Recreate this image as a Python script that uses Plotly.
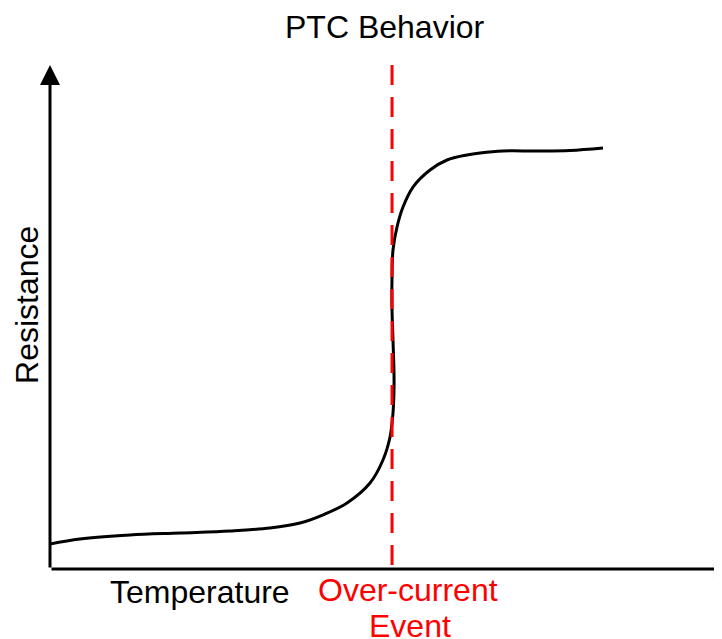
import plotly.graph_objects as go

# Curve data (arbitrary units: temperature 0-100, resistance 0-100)
temperature = [0, 4.46, 11.90, 19.35, 26.79, 32.74, 37.20, 40.92, 44.20, 47.62, 49.55, 50.60,
               51.04, 51.19, 51.19, 51.04, 50.89, 50.89, 51.04, 51.64, 52.53, 54.02, 56.55,
               59.08, 62.05, 63.99, 67.41, 72.47, 77.38, 82.29]
resistance = [4.96, 5.95, 6.75, 7.14, 7.54, 8.13, 9.13, 10.91, 13.10, 17.06, 21.63, 26.19,
              30.95, 35.52, 38.89, 45.44, 51.98, 57.34, 63.29, 67.86, 71.83, 75.79, 79.17,
              81.15, 82.14, 82.54, 82.94, 82.94, 83.04, 83.53]

event_temperature = 50.9
axis_max = 100
x_arrow_head = 99.55

title_text = "PTC Behavior"
x_label = "Temperature"
y_label = "Resistance"
event_label = ["Over-current", "Event"]

FONT = "Liberation Sans, Arial, sans-serif"
FS = 32

fig = go.Figure()
fig.add_trace(go.Scatter(x=temperature, y=resistance, mode="lines",
                         line=dict(color="black", width=3, shape="spline", smoothing=1.0),
                         hoverinfo="skip", showlegend=False))

# x-axis arrow head (runs past the right edge, as in the original)
fig.add_trace(go.Scatter(x=[x_arrow_head], y=[0], mode="markers", cliponaxis=False,
                         marker=dict(symbol="triangle-right", size=20, color="black",
                                     line=dict(width=0)),
                         hoverinfo="skip", showlegend=False))

# red dashed event line
fig.add_shape(type="line", xref="x", yref="y", x0=event_temperature, x1=event_temperature,
              y0=axis_max, y1=0, line=dict(color="#FF0000", width=3, dash="20px,12px"))

annotations = [
    # y axis arrow
    dict(x=0, y=axis_max, ax=0, ay=0, xref="x", yref="y", axref="x", ayref="y",
         showarrow=True, arrowhead=2, arrowsize=1.33, arrowwidth=3, arrowcolor="black", text=""),
    # x axis line
    dict(x=axis_max, y=0, ax=0, ay=0, xref="x", yref="y", axref="x", ayref="y",
         showarrow=True, arrowhead=0, arrowwidth=3, arrowcolor="black", text=""),
    dict(x=0.4985, y=1.075, xref="paper", yref="paper", text=title_text, showarrow=False,
         font=dict(family=FONT, size=FS, color="black"), xanchor="center", yanchor="middle"),
    dict(x=0.223, y=-0.0456, xref="paper", yref="paper", text=x_label, showarrow=False,
         font=dict(family=FONT, size=FS, color="black"), xanchor="center", yanchor="middle"),
    dict(x=0.533, y=-0.0417, xref="paper", yref="paper", text=event_label[0], showarrow=False,
         font=dict(family=FONT, size=FS, color="#FF0000"), xanchor="center", yanchor="middle"),
    dict(x=0.536, y=-0.113, xref="paper", yref="paper", text=event_label[1], showarrow=False,
         font=dict(family=FONT, size=FS, color="#FF0000"), xanchor="center", yanchor="middle"),
    dict(x=-0.0342, y=0.524, xref="paper", yref="paper", text=y_label, showarrow=False, textangle=-90,
         font=dict(family=FONT, size=FS, color="black"), xanchor="center", yanchor="middle"),
]

# page body has an 8px margin, so the figure is 8px smaller and margins are shifted
fig.update_layout(
    width=714, height=631,
    margin=dict(l=42, r=0, t=57, b=70, pad=0, autoexpand=False),
    paper_bgcolor="white", plot_bgcolor="white",
    xaxis=dict(range=[0, axis_max], visible=False, fixedrange=True),
    yaxis=dict(range=[0, axis_max], visible=False, fixedrange=True),
    annotations=annotations,
)

# hide page scrollbars so the full width is visible
fig.write_html("out.html",
               post_script="document.documentElement.style.overflow='hidden';"
                           "document.body.style.overflow='hidden';")
